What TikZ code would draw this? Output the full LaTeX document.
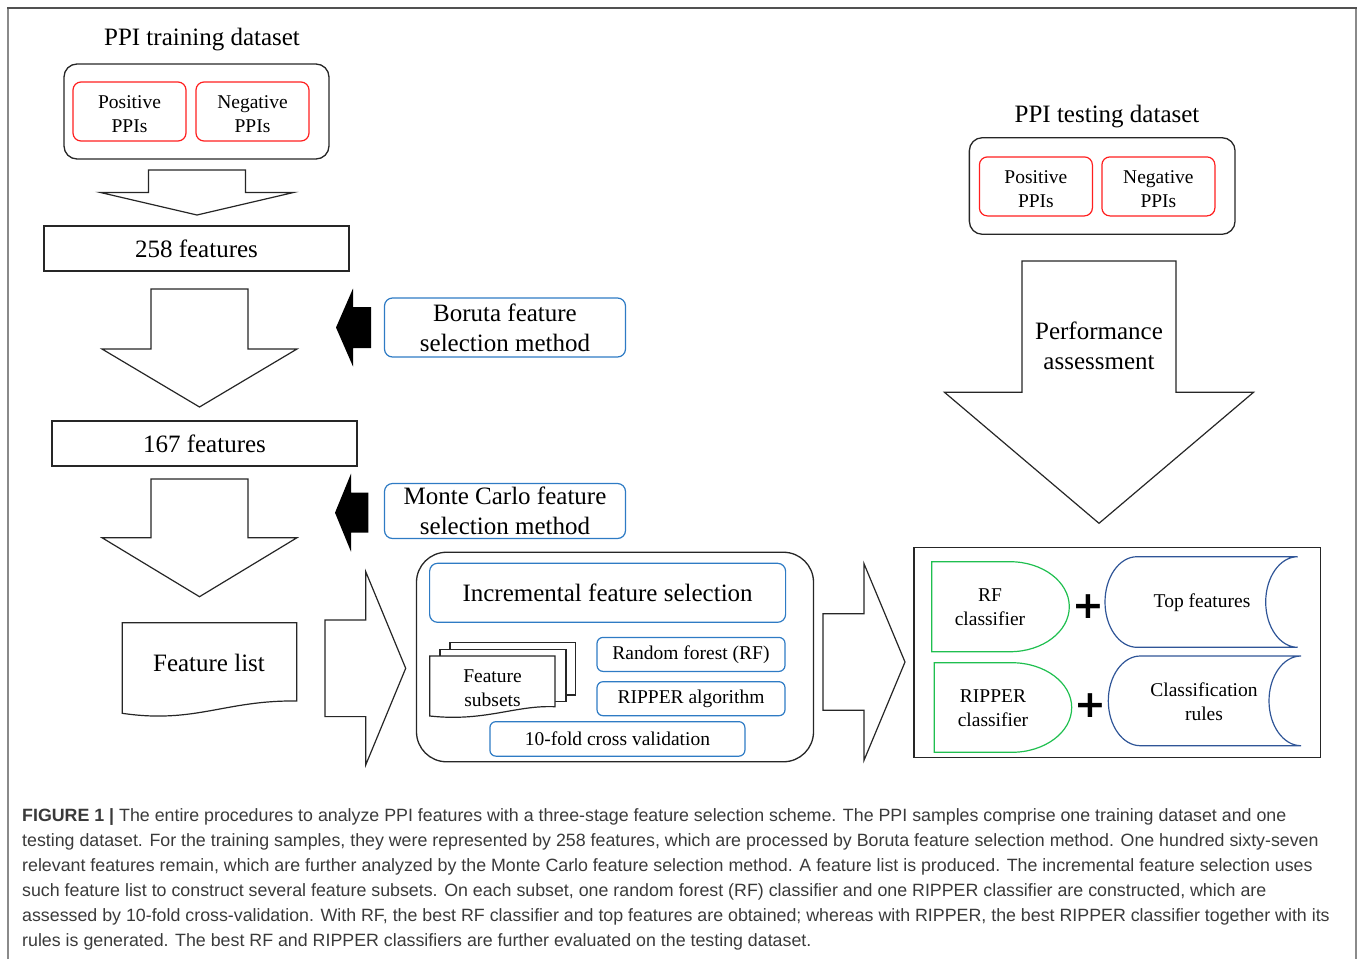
\documentclass[tikz,border=0pt]{standalone}
\usepackage{fontspec}
\setmainfont{Liberation Serif}
\newfontfamily\capfont{Liberation Sans}
\newfontfamily\plusfont{DejaVu Sans}
\usepackage{tikz}
\usetikzlibrary{positioning}
\definecolor{ppired}{HTML}{FF1F1F}
\definecolor{methblue}{HTML}{2E7BC4}
\definecolor{storeblue}{HTML}{2F5597}
\definecolor{clfgreen}{HTML}{1FBF4F}
\definecolor{framegrey}{HTML}{8A8A8A}
\definecolor{linegrey}{HTML}{262626}
\definecolor{captext}{HTML}{3A3A3A}
\newcommand{\fsbig}{\fontsize{25}{30}\selectfont}
\newcommand{\fssmall}{\fontsize{19.5}{24}\selectfont}
\newcommand{\lowstrut}{\rule{0pt}{18.5pt}}
\tikzset{
  grp/.style={rounded corners=13pt, draw=linegrey, line width=1.3pt},
  ppi/.style={rounded corners=8pt, draw=ppired, line width=1.2pt, align=center,
              font=\fssmall, minimum width=113pt, minimum height=59pt, inner sep=0pt},
  featbox/.style={draw=linegrey, line width=1.3pt, font=\fsbig, minimum width=305pt,
                  minimum height=45pt, inner sep=0pt},
  meth/.style={rounded corners=8pt, draw=methblue, line width=1.2pt, align=center,
               font=\fsbig, inner sep=0pt},
  algo/.style={rounded corners=6pt, draw=methblue, line width=1.2pt, font=\fssmall,
               inner sep=0pt, minimum height=34pt},
  ttl/.style={font=\fsbig},
  txt/.style={font=\fssmall, align=center},
  captxt/.style={font=\capfont\fontsize{17.8}{25}\selectfont, text=captext, inner sep=0pt},
}

\begin{document}
\begin{tikzpicture}[x=1pt, y=-1pt]
\tikzset{
  blockarr/.style={draw=linegrey, line width=1.2pt, fill=white, line join=miter},
  page/.style={draw=linegrey, line width=1.2pt, fill=white},
  clf/.style={draw=clfgreen, line width=1.2pt},
  store/.style={draw=storeblue, line width=1.2pt},
  plussign/.style={font=\plusfont\bfseries\fontsize{38}{38}\selectfont, inner sep=0pt},
}
\useasboundingbox (0,0) rectangle (1360,959);
\draw[framegrey, line width=1.5pt] (8,959) -- (8,8);
\draw[framegrey, line width=1.5pt] (1356,8) -- (1356,959);
\draw[linegrey!80, line width=1.5pt] (7.25,8) -- (1356.75,8);

% training side
\node[ttl] (traintitle) at (202,39.5) {PPI training dataset};
\node[grp, minimum width=265pt, minimum height=95pt] (trainset) at (196.5,111.5) {};
\node[ppi] (trainpos) at (129.5,111.5) {\lowstrut Positive\\PPIs};
\node[ppi] (trainneg) at (252.5,111.5) {\lowstrut Negative\\PPIs};
\node[featbox] (f258) at (196.5,248.5) {258 features};
\node[featbox] (f167) at (204.5,443.5) {167 features};
\node[meth, minimum width=241pt, minimum height=59pt] (boruta) at (505,327.5)
  {Boruta feature\\selection method};
\node[meth, minimum width=241pt, minimum height=55pt] (montecarlo) at (505,511)
  {Monte Carlo feature\\selection method};

% down arrows, last one is the assessment arrow
\foreach \cx/\ytop/\ysh/\ytip/\hs/\hh in {197/170/192.5/215/48.5/96.5,
    199.5/289/349/407/48.5/97.5, 199.5/479/537.7/596.7/48.5/97.5,
    1099/261/392.3/523.3/77/154.5}{
  \draw[blockarr] (\cx-\hs,\ytop) -- (\cx+\hs,\ytop) -- (\cx+\hs,\ysh) -- (\cx+\hh,\ysh)
    -- (\cx,\ytip) -- (\cx-\hh,\ysh) -- (\cx-\hs,\ysh) -- cycle;}
\foreach \xt/\xb/\xe/\cy/\hs/\hh in {336/353/371/327.5/20.5/39, 335/351/368.3/512.7/20/39}{
  \fill[black] (\xt,\cy) -- (\xb,\cy-\hh) -- (\xb,\cy-\hs) -- (\xe,\cy-\hs) -- (\xe,\cy+\hs)
    -- (\xb,\cy+\hs) -- (\xb,\cy+\hh) -- cycle;}
\foreach \xl/\xb/\xt/\cy/\hs/\hh in {325/365.7/405.7/668.3/48.3/96.7, 823/864/905/662/48.3/98.3}{
  \draw[blockarr] (\xl,\cy-\hs) -- (\xb,\cy-\hs) -- (\xb,\cy-\hh) -- (\xt,\cy)
    -- (\xb,\cy+\hh) -- (\xb,\cy+\hs) -- (\xl,\cy+\hs) -- cycle;}

% feature list
\draw[page] (122.3,622.7) -- (296.7,622.7) -- (296.7,701)
  .. controls (225,700) and (195,724) .. (122.3,713.3) -- cycle;
\node[ttl] (flist) at (209,663) {Feature list};

% incremental feature selection
\node[grp, rounded corners=30pt, minimum width=397pt, minimum height=209.5pt] (ifsframe)
  at (615,657) {};
\node[meth, minimum width=356pt, minimum height=59pt] (ifs) at (607.6,592.8)
  {Incremental feature selection};
\draw[page] (450,642.7) rectangle (575.6,695);
\draw[page] (440,649.3) rectangle (566,701.7);
\draw[page] (429.8,656) -- (555,656) -- (555,706.7)
  .. controls (515,705) and (485,722) .. (429.8,716) -- cycle;
\node[txt] (subsets) at (492.5,688) {Feature\\subsets};
\node[algo, minimum width=188pt] (rf) at (691,654.4) {Random forest (RF)};
\node[algo, minimum width=188pt] (ripper) at (691,698.7) {RIPPER algorithm};
\node[algo, minimum width=255pt, minimum height=34.5pt] (cv) at (617.4,738.9)
  {10-fold cross validation};

% testing side
\node[ttl] (testtitle) at (1107,116.5) {PPI testing dataset};
\node[grp, minimum width=265.7pt, minimum height=96.6pt] (testset) at (1102.2,186) {};
\node[ppi] (testpos) at (1035.9,186.4) {\lowstrut Positive\\PPIs};
\node[ppi] (testneg) at (1158.4,186.4) {\lowstrut Negative\\PPIs};
\node[ttl, align=center] (perf) at (1099,346) {Performance\\assessment};

% results
\node[draw=linegrey, line width=1.3pt, minimum width=406.7pt, minimum height=210pt]
  (results) at (1117.35,652.3) {};
\draw[clf] (931.7,561.7) -- (1010,561.7)
  .. controls (1042.75,561.7) and (1069.3,581.85) .. (1069.3,606.7)
  .. controls (1069.3,631.55) and (1042.75,651.7) .. (1010,651.7) -- (931.7,651.7) -- cycle;
\draw[clf] (934.3,662.7) -- (1011.7,662.7)
  .. controls (1044.84,662.7) and (1071.7,682.76) .. (1071.7,707.5)
  .. controls (1071.7,732.24) and (1044.84,752.3) .. (1011.7,752.3) -- (934.3,752.3) -- cycle;
\node[txt] (rfclf) at (990,607) {RF\\classifier};
\node[txt] (ripclf) at (993,708) {RIPPER\\classifier};
\node[plussign] (plusa) at (1088.3,606.7) {+};
\node[plussign] (plusb) at (1090.7,705.7) {+};
\draw[store] (1137,556.7) .. controls (1119.33,556.7) and (1105,576.98) .. (1105,602)
  .. controls (1105,627.02) and (1119.33,647.3) .. (1137,647.3) -- (1297.7,647.3)
  .. controls (1280.03,647.3) and (1265.7,627.02) .. (1265.7,602)
  .. controls (1265.7,576.98) and (1280.03,556.7) .. (1297.7,556.7) -- cycle;
\draw[store] (1140.3,656) .. controls (1122.63,656) and (1108.3,676.08) .. (1108.3,700.85)
  .. controls (1108.3,725.62) and (1122.63,745.7) .. (1140.3,745.7) -- (1301,745.7)
  .. controls (1283.33,745.7) and (1269,725.62) .. (1269,700.85)
  .. controls (1269,676.08) and (1283.33,656) .. (1301,656) -- cycle;
\node[txt] (topfeat) at (1202,603) {Top features};
\node[txt] (rules) at (1204,702) {Classification\\rules};

% caption
\foreach \i/\txt in {
  0/{\textbf{FIGURE 1 |} The entire procedures to analyze PPI features with a three-stage feature selection scheme. The PPI samples comprise one training dataset and one},
  1/{testing dataset. For the training samples, they were represented by 258 features, which are processed by Boruta feature selection method. One hundred sixty-seven},
  2/{relevant features remain, which are further analyzed by the Monte Carlo feature selection method. A feature list is produced. The incremental feature selection uses},
  3/{such feature list to construct several feature subsets. On each subset, one random forest (RF) classifier and one RIPPER classifier are constructed, which are},
  4/{assessed by 10-fold cross-validation. With RF, the best RF classifier and top features are obtained; whereas with RIPPER, the best RIPPER classifier together with its},
  5/{rules is generated. The best RF and RIPPER classifiers are further evaluated on the testing dataset.}}{
  \node[captxt, anchor=base west] (cap\i) at (22,821+25*\i) {\txt};}
\end{tikzpicture}
\end{document}
